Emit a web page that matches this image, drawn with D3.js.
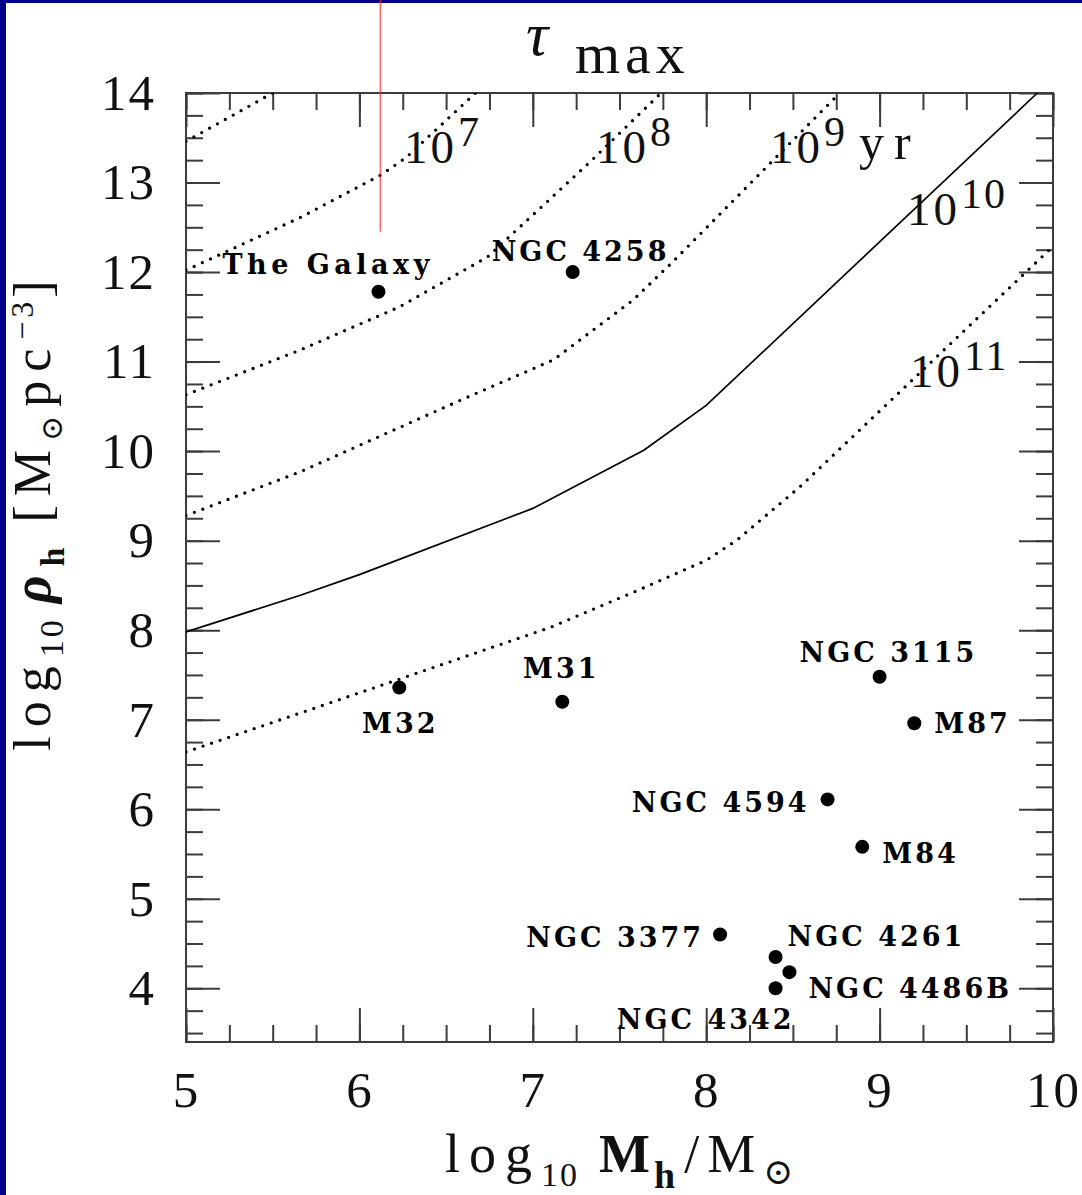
<!DOCTYPE html>
<html>
<head>
<meta charset="utf-8">
<script src="https://cdn.jsdelivr.net/npm/d3@7"></script>
<style>
  body { margin: 0; background: #fff; }
  svg { display: block; }
</style>
</head>
<body>
<div class="chart"></div>
<script>
// galaxies: log10 M_h (x) and log10 rho_h (y)
const galaxyNames = ["The Galaxy", "NGC 4258", "M32", "M31", "NGC 3115", "M87",
  "NGC 4594", "M84", "NGC 3377", "NGC 4261", "NGC 4486B", "NGC 4342"];
const logMass = [6.11, 7.23, 6.23, 7.17, 9.00, 9.20, 8.70, 8.90, 8.08, 8.40, 8.48, 8.40];
const logRho = [11.78, 12.00, 7.36, 7.20, 7.48, 6.96, 6.11, 5.58, 4.60, 4.35, 4.18, 4.00];

// tau_max curves
const tau6Mass = [5, 5.5];
const tau6Rho = [13.46, 14.0];
const tau7Mass = [5, 5.66, 6.12, 6.27, 6.67];
const tau7Rho = [12.02, 12.61, 13.08, 13.28, 14.0];
const tau8Mass = [5, 5.66, 6.23, 6.74, 6.89, 7.33, 7.74];
const tau8Rho = [10.63, 11.13, 11.61, 12.17, 12.44, 13.23, 14.0];
const tau9Mass = [5, 5.66, 6.62, 7.12, 7.58, 7.8, 8.77];
const tau9Rho = [9.28, 9.77, 10.60, 11.02, 11.69, 12.1, 14.0];
const tau10Mass = [5, 5.66, 6, 7, 7.64, 8, 9.91];
const tau10Rho = [7.98, 8.39, 8.62, 9.36, 10.01, 10.51, 14.0];
const tau11Mass = [5, 6, 7.1, 7.6, 8, 8.18, 8.54, 9.98];
const tau11Rho = [6.64, 7.30, 8.03, 8.44, 8.78, 9.01, 9.60, 12.25];

const tauExponents = ["7", "8", "9", "10", "11"];

// tick labels
const xTicks = [5, 6, 7, 8, 9, 10];
const yTicks = [4, 5, 6, 7, 8, 9, 10, 11, 12, 13, 14];

// set the dimensions and margins of the graph
const margin = { top: 93, right: 29, bottom: 153, left: 186 };
const svgWidth = 1082;
const svgHeight = 1195;
const width = svgWidth - margin.left - margin.right;
const height = svgHeight - margin.top - margin.bottom;

const axisColor = "#3c3c3c";
const serif = "'Liberation Serif', 'DejaVu Serif', serif";
const labelFont = "'DejaVu Serif', 'Liberation Serif', serif";

const x = d3.scaleLinear().domain([5, 10]).range([0, width]);
const y = d3.scaleLinear().domain([3.4, 14]).range([height, 0]);

const root = d3.select(".chart").append("svg")
  .attr("width", svgWidth)
  .attr("height", svgHeight);

root.append("rect").attr("width", svgWidth).attr("height", svgHeight).attr("fill", "#fff");
// slide border, blue on left and top
root.append("rect").attr("width", 6).attr("height", svgHeight).attr("fill", "#000088");
root.append("rect").attr("width", svgWidth).attr("height", 3).attr("fill", "#000088");

const svg = root.append("g")
  .attr("transform", "translate(" + margin.left + "," + margin.top + ")");

svg.append("clipPath").attr("id", "plot-clip")
  .append("rect").attr("width", width).attr("height", height);

// axes: minor ticks every 0.25, major ticks every 1, on all four sides
const minorX = d3.range(5, 10.001, 0.25);
const minorY = d3.range(3.5, 14.001, 0.25);

function tidy(g) {
  g.select(".domain").remove();
  g.selectAll(".tick line").attr("stroke", axisColor).attr("stroke-width", 2);
  g.selectAll(".tick text")
    .attr("fill", "#111")
    .style("font-family", serif)
    .style("font-size", "51px")
    .style("letter-spacing", "2px");
}

svg.append("g").attr("transform", "translate(0," + height + ")")
  .call(d3.axisBottom(x).tickValues(minorX).tickSize(-17).tickFormat("")).call(tidy);
svg.append("g").attr("transform", "translate(0," + height + ")")
  .call(d3.axisBottom(x).tickValues(xTicks).tickSize(-34).tickPadding(29).tickFormat(d3.format("d")))
  .call(tidy);
svg.append("g")
  .call(d3.axisTop(x).tickValues(minorX).tickSize(-17).tickFormat("")).call(tidy);
svg.append("g")
  .call(d3.axisTop(x).tickValues(xTicks).tickSize(-34).tickFormat("")).call(tidy);

svg.append("g")
  .call(d3.axisLeft(y).tickValues(minorY).tickSize(-17).tickFormat("")).call(tidy);
svg.append("g")
  .call(d3.axisLeft(y).tickValues(yTicks).tickSize(-34).tickPadding(30).tickFormat(d3.format("d")))
  .call(tidy);
svg.append("g").attr("transform", "translate(" + width + ",0)")
  .call(d3.axisRight(y).tickValues(minorY).tickSize(-17).tickFormat("")).call(tidy);
svg.append("g").attr("transform", "translate(" + width + ",0)")
  .call(d3.axisRight(y).tickValues(yTicks).tickSize(-34).tickFormat("")).call(tidy);

// frame
svg.append("rect")
  .attr("width", width).attr("height", height)
  .attr("fill", "none").attr("stroke", axisColor).attr("stroke-width", 2);

// the tau_max curves
const valueline = d3.line().x(d => x(d[0])).y(d => y(d[1]));
const curves = [
  { mass: tau6Mass, rho: tau6Rho, dotted: true },
  { mass: tau7Mass, rho: tau7Rho, dotted: true },
  { mass: tau8Mass, rho: tau8Rho, dotted: true },
  { mass: tau9Mass, rho: tau9Rho, dotted: true },
  { mass: tau10Mass, rho: tau10Rho, dotted: false },
  { mass: tau11Mass, rho: tau11Rho, dotted: true }
];
const curveLayer = svg.append("g").attr("clip-path", "url(#plot-clip)");
curves.forEach(c => {
  const p = curveLayer.append("path")
    .datum(d3.zip(c.mass, c.rho))
    .attr("d", valueline)
    .attr("fill", "none")
    .attr("stroke", "#000");
  if (c.dotted) {
    p.attr("stroke-width", 3.3)
      .attr("stroke-linecap", "round")
      .attr("stroke-dasharray", "0 9");
  } else {
    p.attr("stroke-width", 1.7);
  }
});

// curve labels: 10^n placed in data coordinates
const tauLabelAt = [[6.257, 13.22], [7.364, 13.22], [8.368, 13.22], [9.158, 12.525], [9.175, 10.715]];
tauLabelAt.forEach((pos, i) => {
  const t = svg.append("text")
    .attr("x", x(pos[0])).attr("y", y(pos[1]))
    .attr("fill", "#111")
    .style("font-family", serif)
    .style("font-size", "47px")
    .style("white-space", "pre");
  t.append("tspan").style("letter-spacing", "3px").text("10");
  t.append("tspan").attr("dy", -17).attr("dx", 1).style("font-size", "42px")
    .style("letter-spacing", "2px").text(tauExponents[i]);
  if (i === 2) {
    t.append("tspan").attr("dy", 13).attr("dx", 12)
      .style("font-size", "50px").style("letter-spacing", "10px").text("yr");
  }
});

// galaxy points
const galaxies = galaxyNames.map((name, i) => ({ name: name, m: logMass[i], rho: logRho[i] }));
// label offsets from the point: dx, dy (baseline), anchor
const labelPlace = {
  "The Galaxy": [-156, -18, "start"],
  "NGC 4258": [-81, -11, "start"],
  "M32": [1, 46, "middle"],
  "M31": [-1, -24, "middle"],
  "NGC 3115": [-80, -15, "start"],
  "M87": [20, 10, "start"],
  "NGC 4594": [-18, 13, "end"],
  "M84": [20, 16, "start"],
  "NGC 3377": [-16, 12, "end"],
  "NGC 4261": [12, -11, "start"],
  "NGC 4486B": [19, 26, "start"],
  "NGC 4342": [19, 41, "end"]
};

svg.selectAll(".galaxy")
  .data(galaxies)
  .enter()
  .append("circle")
  .attr("class", "galaxy")
  .attr("cx", d => x(d.m))
  .attr("cy", d => y(d.rho))
  .attr("r", 7)
  .attr("fill", "#000");

svg.selectAll(".galaxy-label")
  .data(galaxies)
  .enter()
  .append("text")
  .attr("class", "galaxy-label")
  .attr("x", d => x(d.m) + labelPlace[d.name][0])
  .attr("y", d => y(d.rho) + labelPlace[d.name][1])
  .attr("text-anchor", d => labelPlace[d.name][2])
  .attr("fill", "#000")
  .style("font-family", labelFont)
  .style("font-weight", "bold")
  .style("font-size", "27px")
  .style("letter-spacing", d => d.name === "The Galaxy" ? "4.5px" : "3px")
  .style("white-space", "pre")
  .text(d => d.name);

// title tau_max above the plot
const title = root.append("text")
  .attr("x", 526).attr("y", 55)
  .attr("fill", "#111")
  .style("font-family", serif);
title.append("tspan").style("font-style", "italic").style("font-size", "62px").text("τ");
title.append("tspan").attr("x", 575).attr("y", 73)
  .style("font-size", "58px").style("letter-spacing", "5px").text("max");

// x axis title
const xTitle = root.append("text")
  .attr("x", 445).attr("y", 1172)
  .attr("fill", "#111")
  .style("font-family", serif)
  .style("font-size", "54px")
  .style("letter-spacing", "9px")
  .style("white-space", "pre");
xTitle.append("tspan").text("log");
xTitle.append("tspan").attr("dy", 14).style("font-size", "34px").style("letter-spacing", "2px").text("10");
xTitle.append("tspan").attr("dy", -14).attr("dx", 20).style("font-weight", "bold").style("letter-spacing", "4px").text("M");
xTitle.append("tspan").attr("dy", 16).style("font-size", "38px").style("font-weight", "bold").text("h");
xTitle.append("tspan").attr("dy", -16).style("letter-spacing", "8px").text("/M");
xTitle.append("tspan").attr("dy", 12).style("font-size", "36px").text("⊙");

// y axis title
const yTitle = root.append("text")
  .attr("transform", "translate(50,511) rotate(-90)")
  .attr("text-anchor", "middle")
  .attr("fill", "#111")
  .style("font-family", serif)
  .style("font-size", "52px")
  .style("letter-spacing", "9px")
  .style("white-space", "pre");
yTitle.append("tspan").text("log");
yTitle.append("tspan").attr("dy", 13).style("font-size", "34px").style("letter-spacing", "3px").text("10");
yTitle.append("tspan").attr("dy", -13).attr("dx", 14)
  .style("font-weight", "bold").style("font-style", "italic").style("font-size", "54px").text("ρ");
yTitle.append("tspan").attr("dy", 14).style("font-weight", "bold").style("font-size", "34px").text("h");
yTitle.append("tspan").attr("dy", -14).attr("dx", 16).text("[M");
yTitle.append("tspan").attr("dy", 12).style("font-size", "30px").text("⊙");
yTitle.append("tspan").attr("dy", -12).text("pc");
yTitle.append("tspan").attr("dy", -17).style("font-size", "32px").style("letter-spacing", "4px").text("−3");
yTitle.append("tspan").attr("dy", 17).text("]");

// thin red marker line at the top
root.append("line")
  .attr("x1", margin.left + x(6.12)).attr("x2", margin.left + x(6.12))
  .attr("y1", 0).attr("y2", margin.top + y(12.45))
  .attr("stroke", "#ff2020").attr("stroke-width", 1);
</script>
</body>
</html>
